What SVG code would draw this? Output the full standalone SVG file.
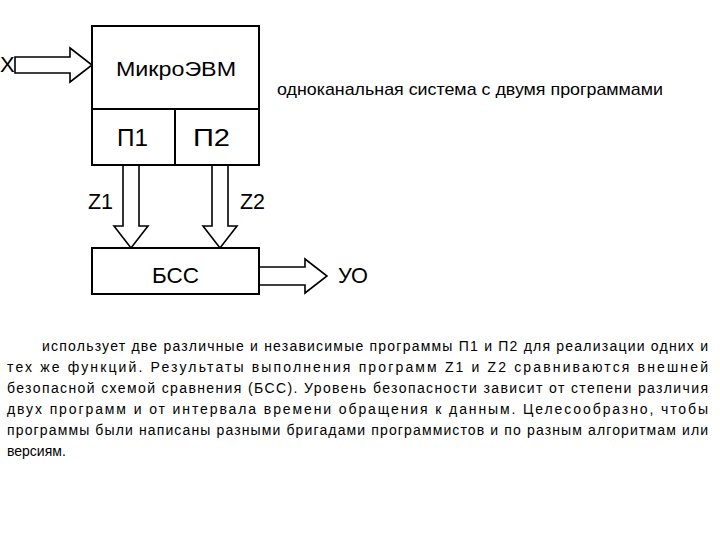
<svg xmlns="http://www.w3.org/2000/svg" width="720" height="540" viewBox="0 0 720 540">
<style>
.b{fill:#fff;stroke:#000;stroke-width:2}
.a{fill:#fff;stroke:#000;stroke-width:1.6;stroke-linejoin:miter}
.l{font-family:"Liberation Sans",Arial,sans-serif;font-size:22px;fill:#000}
.c{font-family:"Liberation Sans",Arial,sans-serif;font-size:17px;fill:#000}
.p{font-family:"Liberation Sans",Arial,sans-serif;font-size:14px;fill:#000}
</style>
<rect width="720" height="540" fill="#fff"/>
<g id="connectors">
<polygon class="a" points="15,57 70,57 70,48 92,65 70,82 70,73 15,73"/>
<polygon class="a" points="123,165 139,165 139,226 148,226 131,248 114,226 123,226"/>
<polygon class="a" points="212,165 228,165 228,226 237,226 220,248 203,226 212,226"/>
<polygon class="a" points="259,267 305,267 305,259 327,276 305,293 305,285 259,285"/>
</g>
<g id="mikro">
<rect class="b" x="92" y="26" width="167" height="139"/>
<line x1="92" y1="109" x2="259" y2="109" stroke="#000" stroke-width="2"/>
<line x1="175" y1="109" x2="175" y2="165" stroke="#000" stroke-width="2"/>
<text class="l" x="116" y="76" style="font-size:20px" textLength="120" lengthAdjust="spacingAndGlyphs">МикроЭВМ</text>
<text class="l" x="117" y="146" style="font-size:24px" textLength="31" lengthAdjust="spacingAndGlyphs">П1</text>
<text class="l" x="193" y="146" style="font-size:24px" textLength="37" lengthAdjust="spacingAndGlyphs">П2</text>
</g>
<g id="bss">
<rect class="b" x="92" y="248" width="167" height="46"/>
<text class="l" x="152" y="283" textLength="47" lengthAdjust="spacingAndGlyphs">БСС</text>
</g>
<g id="labels">
<text class="l" x="0" y="72">X</text>
<text class="l" x="88" y="209" textLength="25" lengthAdjust="spacingAndGlyphs">Z1</text>
<text class="l" x="240" y="209" textLength="25" lengthAdjust="spacingAndGlyphs">Z2</text>
<text class="l" x="338" y="283" textLength="30" lengthAdjust="spacingAndGlyphs">УО</text>
<text class="c" x="277" y="95" textLength="386" lengthAdjust="spacingAndGlyphs">одноканальная система с двумя программами</text>
</g>
<g id="paragraph">
<text class="p" x="42" y="351" textLength="666" lengthAdjust="spacing">использует две различные и независимые программы П1 и П2 для реализации одних и</text>
<text class="p" x="7" y="372" textLength="701" lengthAdjust="spacing">тех же функций. Результаты выполнения программ Z1 и  Z2 сравниваются внешней</text>
<text class="p" x="7" y="393" textLength="701" lengthAdjust="spacing">безопасной схемой сравнения (БСС). Уровень безопасности зависит от степени различия</text>
<text class="p" x="7" y="414" textLength="701" lengthAdjust="spacing">двух программ и от интервала времени обращения к данным. Целесообразно, чтобы</text>
<text class="p" x="7" y="435" textLength="701" lengthAdjust="spacing">программы были написаны разными бригадами программистов и по разным алгоритмам или</text>
<text class="p" x="7" y="456">версиям.</text>
</g>
</svg>
